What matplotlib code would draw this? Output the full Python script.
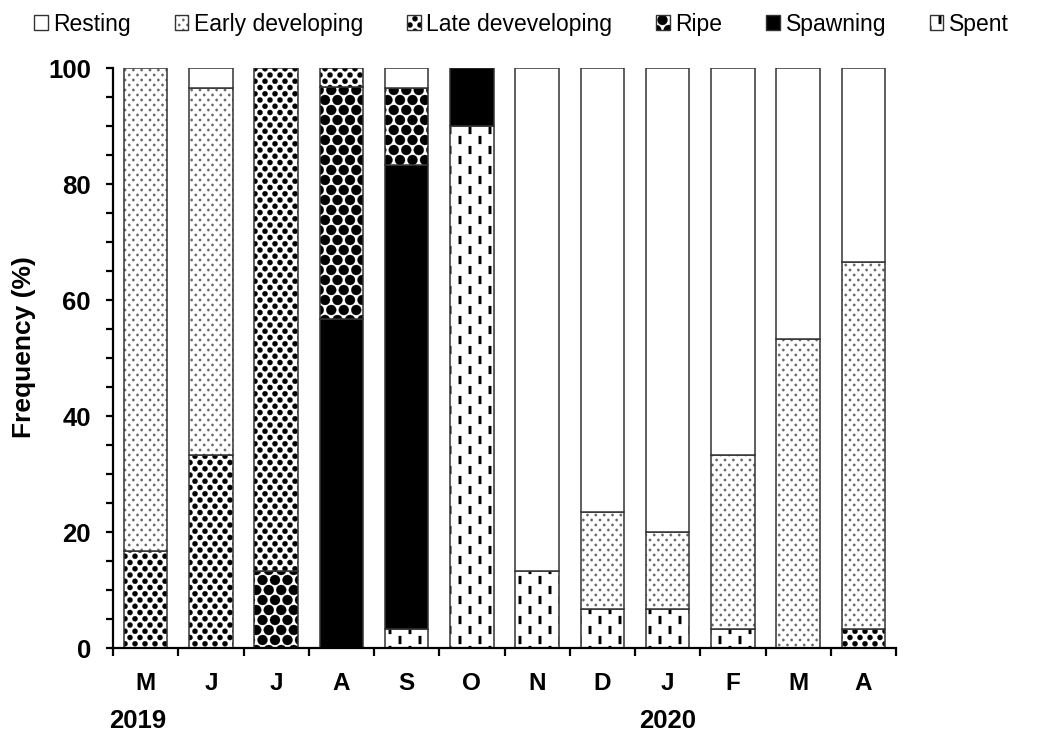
import numpy as np
import matplotlib
matplotlib.use('Agg')
import matplotlib.pyplot as plt
import matplotlib.hatch as mhatch
from matplotlib.path import Path
from matplotlib.patches import Patch
from matplotlib.ticker import MultipleLocator, FixedLocator

plt.rcParams['font.family'] = ['Liberation Sans', 'DejaVu Sans']
plt.rcParams['hatch.linewidth'] = 0.2

# monthly gonad stage frequencies (%), bottom to top of each stack
months = ['M', 'J', 'J', 'A', 'S', 'O', 'N', 'D', 'J', 'F', 'M', 'A']
spent = [0, 0, 0, 0, 3.3, 90.0, 13.3, 6.7, 6.7, 3.3, 0, 0]
spawning = [0, 0, 0, 56.7, 80.0, 10.0, 0, 0, 0, 0, 0, 0]
ripe = [0, 0, 13.3, 40.0, 13.3, 0, 0, 0, 0, 0, 0, 0]
late_dev = [16.7, 33.3, 86.7, 3.3, 0, 0, 0, 0, 0, 0, 0, 3.3]
early_dev = [83.3, 63.3, 0, 0, 0, 0, 0, 16.7, 13.3, 30.0, 53.3, 63.3]
resting = [0, 3.4, 0, 0, 3.4, 0, 86.7, 76.6, 80.0, 66.7, 46.7, 33.4]


# ---- custom fill patterns (unit hatch tile) ----
def lattice(nx, ny, rows=True):
    pts = []
    if rows:
        for j in range(ny + 1):
            if j % 2 == 0:
                xs = [i / nx for i in range(nx + 1)]
            else:
                xs = [(i + 0.5) / nx for i in range(nx)]
            pts += [(x, j / ny) for x in xs]
    else:
        for i in range(nx + 1):
            if i % 2 == 0:
                ys = [j / ny for j in range(ny + 1)]
            else:
                ys = [(j + 0.5) / ny for j in range(ny)]
            pts += [(i / nx, y) for y in ys]
    return np.array(pts)


def circle(r):
    p = Path.unit_circle()
    return Path(p.vertices * r, p.codes)


def rect(w, h):
    v = np.array([[-w / 2, -h / 2], [w / 2, -h / 2], [w / 2, h / 2],
                  [-w / 2, h / 2], [0, 0]])
    return Path(v, [Path.MOVETO, Path.LINETO, Path.LINETO, Path.LINETO,
                    Path.CLOSEPOLY])


def motif(key, centers, shape):
    class Motif(mhatch.HatchPatternBase):
        def __init__(self, hatch, density):
            n = len(centers) if key in hatch else 0
            self.num_vertices = n * len(shape.vertices)

        def set_vertices_and_codes(self, vertices, codes):
            nv = len(shape.vertices)
            for k, c in enumerate(centers):
                vertices[k * nv:(k + 1) * nv] = shape.vertices + c
                codes[k * nv:(k + 1) * nv] = shape.codes
    return Motif


mhatch._hatch_types = [
    motif('.', lattice(12, 20), circle(0.012)),
    motif('o', lattice(10, 16), circle(0.026)),
    motif('O', lattice(8, 10), circle(0.05)),
    motif('|', lattice(10, 5, rows=False), rect(0.025, 0.08)),
]

# stage: (data, face, pattern colour, hatch)
stages = [
    ('Spent', spent, 'white', 'black', '|'),
    ('Spawning', spawning, 'black', 'black', None),
    ('Ripe', ripe, 'white', 'black', 'O'),
    ('Late deveveloping', late_dev, 'white', 'black', 'o'),
    ('Early developing', early_dev, 'white', '#666666', '.'),
    ('Resting', resting, 'white', 'black', None),
]

fig = plt.figure(figsize=(10.6, 7.31), dpi=100)
ax = fig.add_axes([113 / 1060, 1 - 648 / 731, 783 / 1060, 580 / 731])

x = np.arange(len(months))
width = 0.67
outline = '#333333'
bottom = np.zeros(len(months))
handles = {}
for name, vals, face, pcol, h in stages:
    vals = np.array(vals, dtype=float)
    m = vals > 0
    ax.bar(x[m], vals[m], bottom=bottom[m], width=width, color=face,
           edgecolor=pcol, linewidth=0, hatch=h)
    ax.bar(x[m], vals[m], bottom=bottom[m], width=width, fill=False,
           edgecolor=outline, linewidth=1.1)
    bottom += vals
    handles[name] = (Patch(facecolor=face, edgecolor=pcol, linewidth=0, hatch=h),
                     Patch(fill=False, edgecolor=outline, linewidth=1.0))

ax.set_xlim(-0.5, len(months) - 0.5)
ax.set_ylim(0, 100)
ax.spines['top'].set_visible(False)
ax.spines['right'].set_visible(False)
for s in ['left', 'bottom']:
    ax.spines[s].set_linewidth(1.6)
    ax.spines[s].set_color('black')

ax.set_xticks(x)
ax.set_xticklabels(months, fontsize=17.5, fontweight='bold')
ax.xaxis.set_minor_locator(FixedLocator(np.arange(-0.5, len(months), 1.0)))
ax.tick_params(axis='x', which='major', length=0, pad=17)
ax.tick_params(axis='x', which='minor', length=6, width=1.6, direction='out')

ax.yaxis.set_major_locator(MultipleLocator(20))
ax.yaxis.set_minor_locator(MultipleLocator(5))
ax.tick_params(axis='y', which='both', length=5, width=1.6, direction='out')
ax.tick_params(axis='y', which='major', pad=11, labelsize=18.5)
for lab in ax.get_yticklabels():
    lab.set_fontweight('bold')

fig.text(24 / 1060, 1 - 347 / 731, 'Frequency (%)', rotation=90, ha='center',
         va='center', fontsize=19, fontweight='bold')

# year labels under the first month of each year
years = ['2019', '2020']
year_pos = [-0.12, 8]
for yr, xp in zip(years, year_pos):
    ax.text(xp, -0.125, yr, transform=ax.get_xaxis_transform(), ha='center',
            va='center', fontsize=18.5, fontweight='bold')

legend_order = ['Resting', 'Early developing', 'Late deveveloping', 'Ripe',
                'Spawning', 'Spent']
fig.legend([handles[n] for n in legend_order], legend_order, loc='center',
           bbox_to_anchor=(0.492, 0.967), ncol=6, frameon=False, fontsize=16.5,
           handlelength=0.6, handleheight=0.6, handletextpad=0.25,
           columnspacing=1.9, borderaxespad=0)

fig.savefig('out.png', dpi=100)
